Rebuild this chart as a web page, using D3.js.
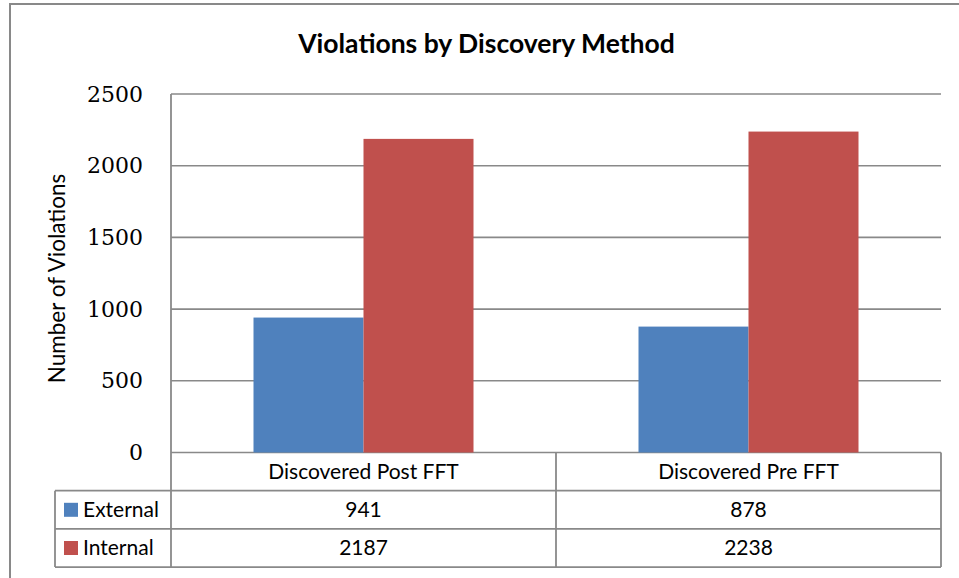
<!DOCTYPE html>
<html>
<head>
<meta charset="utf-8">
<script src="https://cdn.jsdelivr.net/npm/d3@7"></script>
<style>
  body { margin: 0; background: #fff; }
  svg { display: block; }
</style>
</head>
<body>
<div id="chart"></div>
<script>
// chart data
const categories = ['Discovered Post FFT', 'Discovered Pre FFT'];
const seriesNames = ['External', 'Internal'];
const external = [941, 878];
const internal = [2187, 2238];
const yTicks = [0, 500, 1000, 1500, 2000, 2500];

const colors = { External: '#4F81BD', Internal: '#C0504D' };
const lineColor = '#898989';
const sans = 'Lato, "Noto Sans", sans-serif';
const serif = '"DejaVu Serif", "Liberation Serif", serif';

const width = 959, height = 578;
const plot = { left: 171, right: 941, top: 94, bottom: 452.5 };
const rowH = 38.2;
const legendLeft = 55;

const svg = d3.select('#chart').append('svg')
    .attr('width', width)
    .attr('height', height);

// outer chart border (cropped on right and bottom)
svg.append('path')
    .attr('d', 'M10,' + height + ' V4 H' + width)
    .attr('fill', 'none')
    .attr('stroke', lineColor)
    .attr('stroke-width', 2);

svg.append('text')
    .attr('x', 486.5)
    .attr('y', 53)
    .attr('text-anchor', 'middle')
    .style('font-family', sans)
    .style('font-weight', 'bold')
    .style('font-size', '26.5px')
    .text('Violations by Discovery Method');

const y = d3.scaleLinear()
    .domain([0, 2500])
    .range([plot.bottom, plot.top]);

const x0 = d3.scaleBand()
    .domain(categories)
    .range([plot.left, plot.right])
    .padding(0);

const x1 = d3.scaleBand()
    .domain(seriesNames)
    .range([0, x0.bandwidth()])
    .paddingInner(0)
    .paddingOuter(0.75);

// gridlines
svg.append('g').selectAll('line')
    .data(yTicks)
    .enter().append('line')
    .attr('x1', plot.left)
    .attr('x2', plot.right)
    .attr('y1', d => y(d))
    .attr('y2', d => y(d))
    .attr('stroke', lineColor)
    .attr('stroke-width', 1.6);

// y tick labels
const yAxis = d3.axisLeft(y).tickValues(yTicks).tickFormat(d3.format('d'))
    .tickSize(0).tickPadding(0);
const yg = svg.append('g')
    .attr('transform', 'translate(143,0)')
    .call(yAxis);
yg.select('.domain').remove();
yg.selectAll('text')
    .style('font-family', serif)
    .style('font-size', '22px')
    .attr('fill', '#000');

svg.append('text')
    .attr('transform', 'translate(65,278.5) rotate(-90)')
    .attr('text-anchor', 'middle')
    .style('font-family', sans)
    .style('font-size', '22.5px')
    .text('Number of Violations');

// bars
const barData = [];
categories.forEach(function(c, i) {
    barData.push({ cat: c, series: 'External', value: external[i] });
    barData.push({ cat: c, series: 'Internal', value: internal[i] });
});

svg.append('g').selectAll('rect')
    .data(barData)
    .enter().append('rect')
    .attr('x', d => x0(d.cat) + x1(d.series))
    .attr('y', d => y(d.value))
    .attr('width', x1.bandwidth())
    .attr('height', d => plot.bottom - y(d.value))
    .attr('fill', d => colors[d.series]);

// data table
const t = svg.append('g')
    .attr('stroke', lineColor)
    .attr('stroke-width', 1.8);
const rowY = [plot.bottom, plot.bottom + rowH, plot.bottom + rowH * 2, plot.bottom + rowH * 3];

t.append('line').attr('x1', plot.left).attr('x2', plot.left)
    .attr('y1', plot.top).attr('y2', rowY[3]);
[x0(categories[1]), plot.right].forEach(function(xx) {
    t.append('line').attr('x1', xx).attr('x2', xx)
        .attr('y1', rowY[0]).attr('y2', rowY[3]);
});
[1, 2, 3].forEach(function(r) {
    t.append('line').attr('x1', legendLeft).attr('x2', plot.right)
        .attr('y1', rowY[r]).attr('y2', rowY[r]);
});
t.append('line').attr('x1', legendLeft).attr('x2', legendLeft)
    .attr('y1', rowY[1]).attr('y2', rowY[3]);

const tableFont = '21px';

// header labels
svg.append('g').selectAll('text')
    .data(categories)
    .enter().append('text')
    .attr('x', d => x0(d) + x0.bandwidth() / 2)
    .attr('y', (rowY[0] + rowY[1]) / 2)
    .attr('dy', '0.35em')
    .attr('text-anchor', 'middle')
    .style('font-family', sans)
    .style('font-size', tableFont)
    .text(d => d);

const rows = [external, internal];
seriesNames.forEach(function(s, r) {
    const cy = (rowY[r + 1] + rowY[r + 2]) / 2;
    svg.append('rect')
        .attr('x', 64).attr('y', cy - 7)
        .attr('width', 14).attr('height', 14)
        .attr('fill', colors[s]);
    svg.append('text')
        .attr('x', 83).attr('y', cy)
        .attr('dy', '0.35em')
        .style('font-family', sans)
        .style('font-size', tableFont)
        .text(s);
    svg.append('g').selectAll('text')
        .data(rows[r])
        .enter().append('text')
        .attr('x', (d, i) => x0(categories[i]) + x0.bandwidth() / 2)
        .attr('y', cy)
        .attr('dy', '0.35em')
        .attr('text-anchor', 'middle')
        .style('font-family', sans)
        .style('font-size', tableFont)
        .text(d => d);
});
</script>
</body>
</html>
